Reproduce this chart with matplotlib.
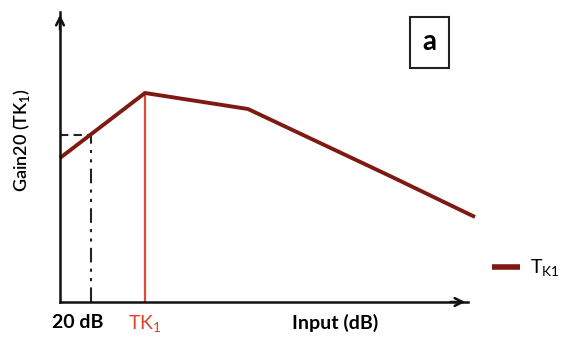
import matplotlib.pyplot as plt

# gain curve (arbitrary units)
input_db = [0, 85, 188, 330, 415]
gain = [144, 209, 193, 126, 85]

ref_x = 31      # the "20 dB" point
ref_y = 167
tk1_x = 85
tk1_y = 209

line_col = '#7f1a12'
tk_col = '#d9442a'

plt.rcParams['font.family'] = ['Lato', 'DejaVu Sans']

fig = plt.figure(figsize=(5.63, 3.38), dpi=100)
W, H = 563, 338
ax = fig.add_axes([60 / W, (H - 302) / H, (468 - 60) / W, (302 - 12) / H])
ax.set_xlim(0, 408)
ax.set_ylim(0, 290)
for s in ['top', 'right']:
    ax.spines[s].set_visible(False)
for s in ['left', 'bottom']:
    ax.spines[s].set_linewidth(1.8)
    ax.spines[s].set_color('#111111')
ax.set_xticks([])
ax.set_yticks([])

# arrow heads
ax.annotate('', xy=(1.0, 0), xytext=(0.95, 0), xycoords='axes fraction',
            arrowprops=dict(arrowstyle='->', lw=1.8, color='#111111',
                            mutation_scale=14))
ax.annotate('', xy=(0, 1.0), xytext=(0, 0.93), xycoords='axes fraction',
            arrowprops=dict(arrowstyle='->', lw=1.8, color='#111111',
                            mutation_scale=14))

# guide lines for the 20 dB point
ax.plot([ref_x, ref_x], [0, ref_y], color='#222222', lw=1.5,
        linestyle=(0, (7, 3, 1.5, 3, 1.5, 3)))
ax.plot([0, ref_x], [ref_y, ref_y], color='#222222', lw=1.5,
        linestyle=(0, (4, 2.5)))

# TK1 marker
ax.plot([tk1_x, tk1_x], [0, tk1_y], color='#e04a3c', lw=1.6)

ax.plot(input_db, gain, color=line_col, lw=2.8, clip_on=False,
        solid_capstyle='butt')

# labels
ax.set_ylabel('Gain20 (TK$_\\mathregular{1}$)', fontsize=13, fontweight='semibold')
ax.yaxis.set_label_coords(-0.068, 0.56)
ax.text(ref_x - 13, -12, '20 dB', fontsize=14, fontweight='bold',
        ha='center', va='top')
ax.text(tk1_x, -12, 'TK$_\\mathregular{1}$', fontsize=14, color=tk_col,
        ha='center', va='top')
ax.text(275, -12, 'Input (dB)', fontsize=14, fontweight='bold',
        ha='center', va='top')

# panel tag
fig.text(429.5 / W, 1 - 42 / H, 'a', fontsize=20, fontweight='bold',
         ha='center', va='center',
         bbox=dict(boxstyle='square,pad=0.45', fc='white', ec='#222222', lw=1.5))

# legend
leg_line, = ax.plot([], [], color=line_col, lw=4, solid_capstyle='butt')
ax.legend([leg_line], ['T$_\\mathregular{K1}$'], loc='center left', frameon=False,
          bbox_to_anchor=((492 - 60) / 408, 34 / 290), handlelength=1.45,
          fontsize=14, handletextpad=0.5, borderpad=0, borderaxespad=0)

fig.savefig('out.png', dpi=100)
